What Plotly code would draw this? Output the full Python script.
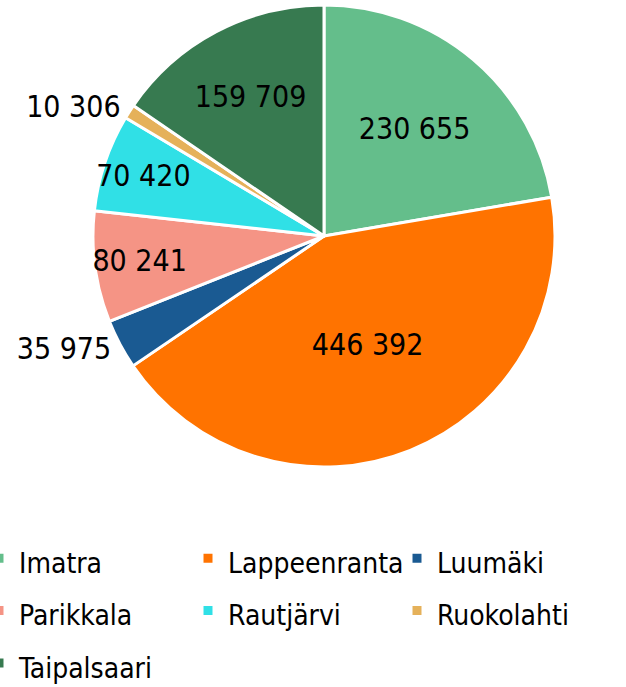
import plotly.graph_objects as go

labels = ["Imatra", "Lappeenranta", "Luumäki", "Parikkala", "Rautjärvi", "Ruokolahti", "Taipalsaari"]
values = [230655, 446392, 35975, 80241, 70420, 10306, 159709]
colors = ["#64BE8B", "#FF7300", "#1A5A92", "#F59485", "#30E0E6", "#E5B15A", "#377A50"]
text_pos = ["inside", "inside", "outside", "inside", "inside", "outside", "inside"]

FONT = "DejaVu Sans Condensed, DejaVu Sans, sans-serif"
W, H = 626, 687
TOP = 5
PLOT_H = 462

legend_labels = [f"<span style='font-size:28px'>{name}</span>" for name in labels]

fig = go.Figure(go.Pie(
    labels=legend_labels,
    values=values,
    sort=False,
    direction="clockwise",
    rotation=0,
    marker=dict(colors=colors, line=dict(color="white", width=3)),
    texttemplate="%{value:,}",
    textposition=text_pos,
    insidetextorientation="horizontal",
    textfont=dict(family=FONT, size=30, color="black"),
    hoverinfo="label+value+percent",
    domain=dict(x=[22 / W, 1], y=[0, 1]),
))

fig.update_layout(
    width=W,
    height=H,
    margin=dict(l=0, r=0, t=TOP, b=H - TOP - PLOT_H, autoexpand=False),
    separators=", ",
    paper_bgcolor="white",
    plot_bgcolor="white",
    font=dict(family=FONT, size=30, color="black"),
    uniformtext=dict(minsize=30, mode="show"),
    legend=dict(
        orientation="h",
        x=-21 / W,
        xanchor="left",
        y=-60 / PLOT_H,
        yanchor="top",
        entrywidth=164,
        font=dict(family=FONT, size=38, color="black"),
        itemwidth=30,
        bgcolor="rgba(0,0,0,0)",
    ),
)

fig.write_html(
    "out.html",
    config={"displayModeBar": False},
    post_script="document.body.style.margin='0px';",
)
